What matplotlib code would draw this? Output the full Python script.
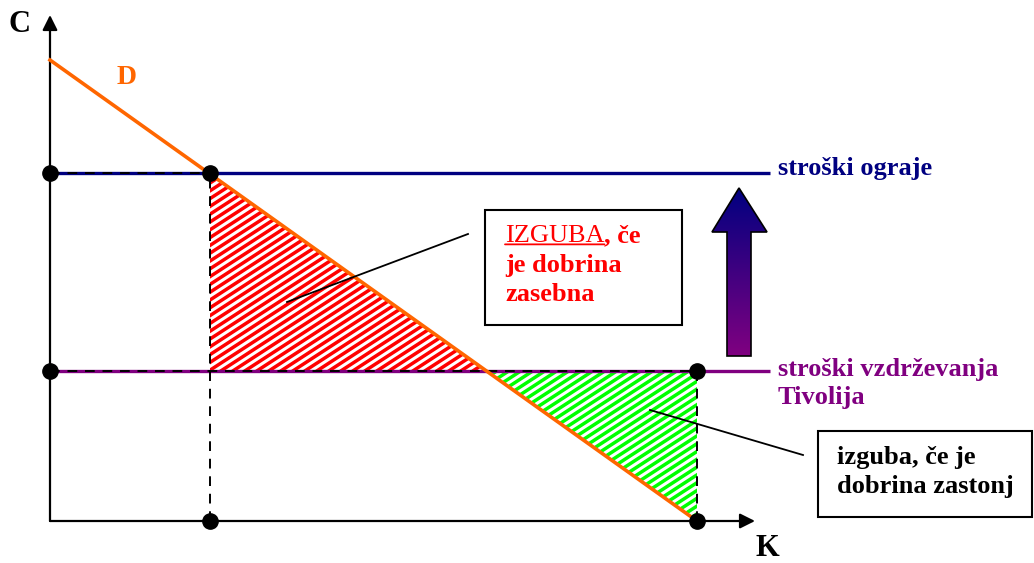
import numpy as np
import matplotlib.pyplot as plt
from matplotlib.patches import Polygon, Rectangle
from matplotlib.colors import LinearSegmentedColormap

# diagram values (K across, C up), origin at the axes corner
demand_k = [0, 647]          # demand line D: C falls from 461 to 0
demand_c = [461, 0]
cost_labels = ['stroški ograje', 'stroški vzdrževanja\nTivolija']
cost_levels = [348, 150]     # fence cost, Tivoli maintenance cost
cost_colors = ['#000080', '#800080']
k_fence = 160                # quantity where D meets fence cost
k_cross = 437                # D meets maintenance cost
k_free = 647                 # quantity at price zero

plt.rcParams['font.family'] = ['Liberation Serif', 'DejaVu Serif']
plt.rcParams['font.weight'] = 'bold'

fig = plt.figure(figsize=(10.34, 5.63), dpi=100)
ax = fig.add_axes([0, 0, 1, 1])
ax.set_xlim(-50, 984)
ax.set_ylim(-42, 521)
ax.axis('off')

# axes with arrows
ax.annotate('', xy=(0, 506), xytext=(0, 0),
            arrowprops=dict(arrowstyle='-|>,head_length=0.9,head_width=0.45', lw=1.6,
                            color='black', shrinkA=0, shrinkB=0))
ax.annotate('', xy=(705, 0), xytext=(0, 0),
            arrowprops=dict(arrowstyle='-|>,head_length=0.9,head_width=0.45', lw=1.6,
                            color='black', shrinkA=0, shrinkB=0))
ax.text(-31, 496, 'C', fontsize=22, ha='center', va='center')
ax.text(717, -28, 'K', fontsize=22, ha='center', va='center')

# hatched loss triangles
def stripes(poly, color):
    ax.add_patch(Polygon(poly, closed=True, facecolor='white', edgecolor='none', zorder=1))
    clip = Polygon(poly, closed=True, facecolor='none', edgecolor='none')
    ax.add_patch(clip)
    xs = np.array([-50, 1000])
    for off in np.arange(-1500, 800, 12):
        ln, = ax.plot(xs, 0.65 * (xs - off), color=color, lw=2.5, zorder=1.5,
                      solid_capstyle='butt')
        ln.set_clip_path(clip)

stripes([(k_fence, cost_levels[0]), (k_fence, cost_levels[1]), (k_cross, cost_levels[1])], '#ff0000')
stripes([(k_cross, cost_levels[1]), (k_free, cost_levels[1]), (k_free, 0)], '#00ff00')

# cost lines
for lvl, col in zip(cost_levels, cost_colors):
    ax.plot([0, 720], [lvl, lvl], color=col, lw=2.4, zorder=2, solid_capstyle='butt')
ax.text(728, cost_levels[0] + 5, cost_labels[0], fontsize=19, color=cost_colors[0],
        ha='left', va='center')
ax.text(728, cost_levels[1] + 13, cost_labels[1], fontsize=19, color=cost_colors[1],
        ha='left', va='top', linespacing=1.3)

# dashed guides
dash = dict(color='black', lw=1.4, ls=(0, (5, 4)), zorder=3)
ax.plot([0, k_fence], [cost_levels[0]] * 2, **dash)
ax.plot([0, k_free], [cost_levels[1]] * 2, **dash)
ax.plot([k_fence, k_fence], [0, cost_levels[0]], **dash)
ax.plot([k_free, k_free], [0, cost_levels[1]], **dash)

# demand
ax.plot(demand_k, demand_c, color='#ff6600', lw=2.6, zorder=4)
ax.text(77, 443, 'D', fontsize=20, color='#ff6600', ha='center', va='center')

# points
px = [0, k_fence, 0, k_free, k_fence, k_free]
py = [cost_levels[0], cost_levels[0], cost_levels[1], cost_levels[1], 0, 0]
ax.plot(px, py, 'o', color='black', ms=11, zorder=5)

# gradient arrow between the cost lines
arrow = Polygon([(677, 165), (701, 165), (701, 289), (717, 289), (689, 333),
                 (662, 289), (677, 289)], closed=True, facecolor='none',
                edgecolor='black', lw=1.2, zorder=7)
grad = np.linspace(0, 1, 256).reshape(-1, 1)
cm = LinearSegmentedColormap.from_list('g', ['#800080', '#000080'])
im = ax.imshow(grad, cmap=cm, extent=(660, 720, 165, 333), origin='lower',
               aspect='auto', zorder=6)
ax.add_patch(arrow)
im.set_clip_path(arrow)
ax.set_xlim(-50, 984)
ax.set_ylim(-42, 521)

# callout boxes
ax.add_patch(Rectangle((435, 196), 197, 115, facecolor='white', edgecolor='black',
                       lw=1.5, zorder=6))
ax.plot([237, 418], [219, 287], color='black', lw=1.3, zorder=6)
t1 = ax.text(455, 285, 'IZGUBA', fontsize=19, color='red', fontweight='normal',
             ha='left', va='center', zorder=7)
ax.annotate(', če', xy=(1, 0.5), xycoords=t1, fontsize=19, color='red',
            ha='left', va='center', zorder=7)
ax.annotate('', xy=(1, 0.12), xytext=(0, 0.12), xycoords=t1, textcoords=t1,
            arrowprops=dict(arrowstyle='-', color='red', lw=1.3, shrinkA=0, shrinkB=0),
            zorder=7)
ax.text(455, 241, 'je dobrina\nzasebna', fontsize=19, color='red', ha='left',
        va='center', linespacing=1.3, zorder=7)

ax.add_patch(Rectangle((768, 4), 214, 86, facecolor='white', edgecolor='black',
                       lw=1.5, zorder=6))
ax.plot([600, 753], [111, 66], color='black', lw=1.3, zorder=6)
ax.text(787, 49, 'izguba, če je\ndobrina zastonj', fontsize=19, color='black',
        ha='left', va='center', linespacing=1.3, zorder=7)

fig.savefig('out.png', dpi=100, facecolor='white')
